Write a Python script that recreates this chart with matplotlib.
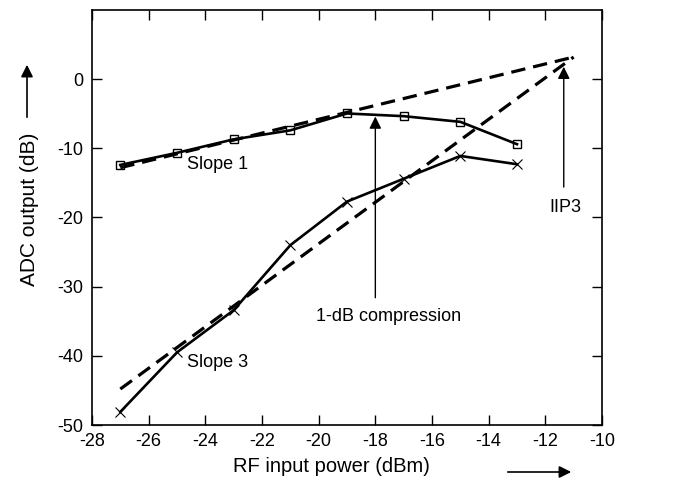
import numpy as np
import matplotlib
matplotlib.use("Agg")
import matplotlib.pyplot as plt
from matplotlib.patches import FancyArrowPatch

plt.rcParams['font.family'] = ['Liberation Sans', 'DejaVu Sans']
plt.rcParams['axes.unicode_minus'] = False

# measured data
rf_in = [-27, -25, -23, -21, -19, -17, -15, -13]
fund_out = [-12.4, -10.65, -8.7, -7.4, -4.96, -5.35, -6.17, -9.4]
im3_out = [-48.1, -39.5, -33.4, -24.0, -17.7, -14.4, -11.1, -12.3]

# extrapolated asymptotes meeting at IIP3
iip3_x = -11.0
iip3_y = 3.2
fit_x = [-27, iip3_x]

fig = plt.figure(figsize=(6.84, 4.88), dpi=100)
ax = fig.add_axes([92 / 684, 1 - 425 / 488, 510 / 684, 415 / 488])

# slope lines
slope1 = [iip3_y + 1 * (x - iip3_x) for x in fit_x]
slope3 = [iip3_y + 3 * (x - iip3_x) for x in fit_x]
dash = (0, (4.5, 2.5))
ax.plot(fit_x, slope1, color='black', lw=2.3, ls=dash)
ax.plot(fit_x, slope3, color='black', lw=2.3, ls=dash)

ax.plot(rf_in, fund_out, color='black', lw=1.9, marker='s', ms=6,
        mfc='none', mec='black', mew=1.0)
ax.plot(rf_in, im3_out, color='black', lw=1.9, marker='x', ms=6.5, mew=0.8)

# annotations
ax.annotate('', xy=(-18, -5.0), xytext=(-18, -32.0),
            arrowprops=dict(arrowstyle='-|>', color='black', lw=1.0,
                            mutation_scale=18))
ax.text(-17.55, -34.3, '1-dB compression', fontsize=13, ha='center', va='center')
ax.annotate('', xy=(-11.35, 2.2), xytext=(-11.35, -16.0),
            arrowprops=dict(arrowstyle='-|>', color='black', lw=1.0,
                            mutation_scale=18))
ax.text(-11.3, -18.6, 'IIP3', fontsize=13, ha='center', va='center')
ax.text(-24.65, -12.4, 'Slope 1', fontsize=13, ha='left', va='center')
ax.text(-24.65, -40.9, 'Slope 3', fontsize=13, ha='left', va='center')

ax.set_xlim(-28, -10)
ax.set_ylim(-50, 10)
ax.set_xticks(np.arange(-28, -9, 2))
ax.set_yticks(np.arange(-50, 1, 10))
ax.tick_params(direction='in', top=True, right=True, length=7, width=1,
               labelsize=13, pad=6)
for s in ax.spines.values():
    s.set_linewidth(1.2)

# axis titles with arrows
fig.text(331 / 684, 1 - 467 / 488, 'RF input power (dBm)', fontsize=14.5,
         ha='center', va='center')
fig.text(30 / 684, 1 - 209 / 488, 'ADC output (dB)', fontsize=15,
         ha='center', va='center', rotation=90)
fig.add_artist(FancyArrowPatch(
    (505 / 684, 1 - 472 / 488), (574 / 684, 1 - 472 / 488),
    transform=fig.transFigure, arrowstyle='-|>', mutation_scale=18,
    color='black', lw=1.2))
fig.add_artist(FancyArrowPatch(
    (27 / 684, 1 - 120 / 488), (27 / 684, 1 - 62 / 488),
    transform=fig.transFigure, arrowstyle='-|>', mutation_scale=18,
    color='black', lw=1.2))

fig.savefig('out.png', dpi=100)
